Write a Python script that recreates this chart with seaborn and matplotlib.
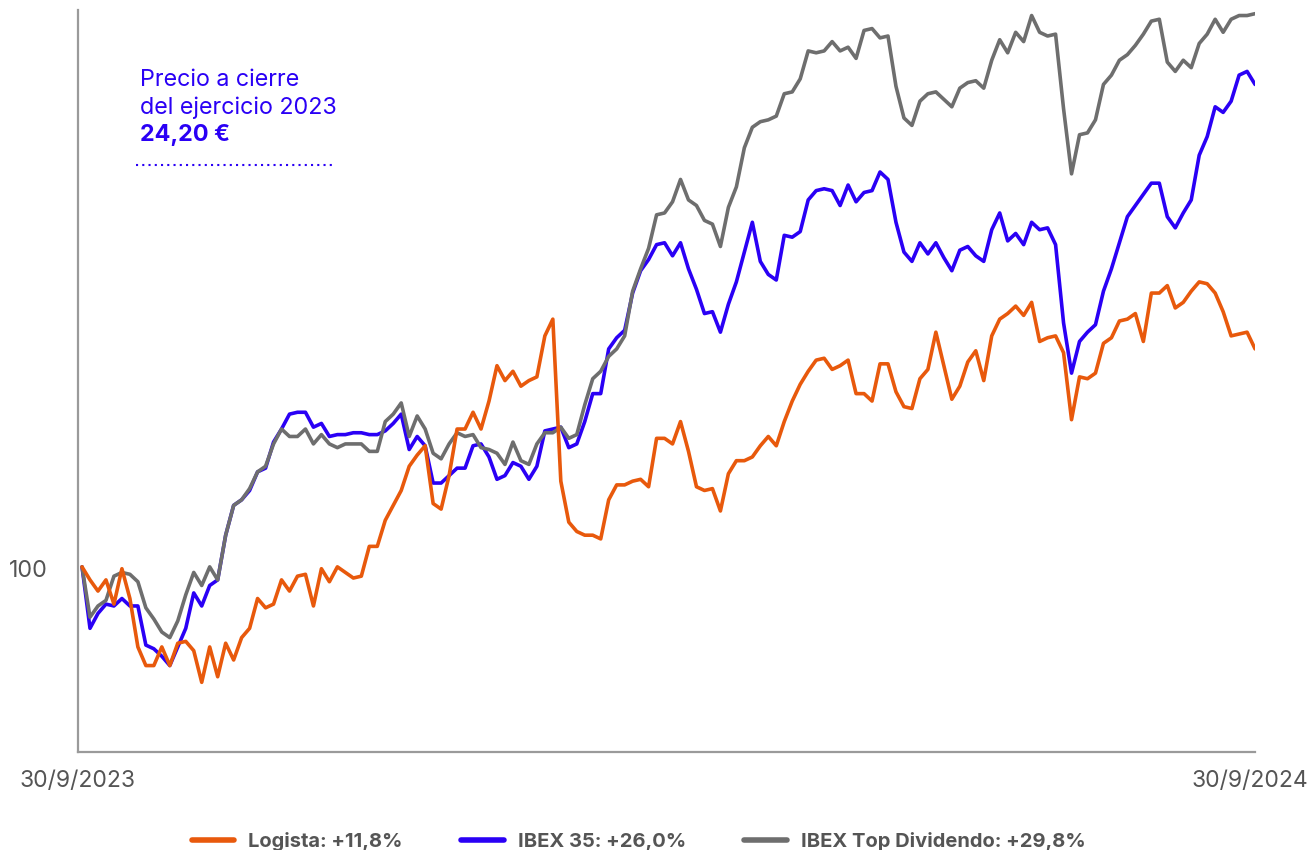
import matplotlib
matplotlib.use('Agg')
import matplotlib.pyplot as plt
from matplotlib.lines import Line2D
from matplotlib.transforms import ScaledTranslation
import numpy as np
import pandas as pd
import seaborn as sns

# índice base 100 a 30/9/2023
logista = [100.1, 99.4, 98.8, 99.4, 98.1, 100.0, 98.4, 95.8, 94.8, 94.8,
           95.8, 94.8, 96.0, 96.1, 95.6, 93.9, 95.8, 94.2, 96.0, 95.1,
           96.3, 96.8, 98.4, 97.9, 98.1, 99.4, 98.8, 99.6, 99.7, 98.0,
           100.0, 99.3, 100.1, 99.8, 99.5, 99.6, 101.2, 101.2, 102.6, 103.4,
           104.2, 105.5, 106.1, 106.6, 103.5, 103.2, 105.0, 107.5, 107.5, 108.4,
           107.5, 109.0, 110.9, 110.1, 110.6, 109.8, 110.1, 110.3, 112.5, 113.4,
           104.7, 102.5, 102.0, 101.8, 101.8, 101.6, 103.7, 104.5, 104.5, 104.7,
           104.8, 104.4, 107.0, 107.0, 106.7, 107.9, 106.3, 104.4, 104.2, 104.3,
           103.1, 105.1, 105.8, 105.8, 106.0, 106.6, 107.1, 106.6, 107.9, 109.0,
           109.9, 110.6, 111.2, 111.3, 110.7, 110.9, 111.2, 109.4, 109.4, 109.0,
           111.0, 111.0, 109.5, 108.7, 108.6, 110.2, 110.7, 112.7, 110.9, 109.1,
           109.8, 111.1, 111.7, 110.1, 112.5, 113.4, 113.7, 114.1, 113.6, 114.3,
           112.2, 112.4, 112.5, 111.6, 108.0, 110.3, 110.2, 110.5, 112.1, 112.4,
           113.3, 113.4, 113.7, 112.2, 114.8, 114.8, 115.2, 114.0, 114.3, 114.9,
           115.4, 115.3, 114.8, 113.8, 112.5, 112.6, 112.7, 111.8]

ibex35 = [100.1, 96.8, 97.6, 98.1, 98.0, 98.4, 98.0, 98.0, 95.9, 95.7,
          95.3, 94.8, 95.8, 96.8, 98.7, 98.0, 99.1, 99.4, 101.8, 103.4,
          103.7, 104.2, 105.2, 105.4, 106.8, 107.5, 108.3, 108.4, 108.4, 107.6,
          107.8, 107.1, 107.2, 107.2, 107.3, 107.3, 107.2, 107.2, 107.4, 107.8,
          108.3, 106.4, 107.1, 106.6, 104.6, 104.6, 105.0, 105.4, 105.4, 106.6,
          106.7, 106.0, 104.8, 105.0, 105.7, 105.5, 104.8, 105.5, 107.4, 107.5,
          107.6, 106.5, 106.7, 107.9, 109.4, 109.4, 111.8, 112.4, 112.8, 114.8,
          116.0, 116.6, 117.4, 117.5, 116.8, 117.5, 116.1, 115.0, 113.7, 113.8,
          112.7, 114.2, 115.4, 117.0, 118.6, 116.5, 115.8, 115.5, 117.9, 117.8,
          118.1, 119.8, 120.3, 120.4, 120.3, 119.5, 120.6, 119.7, 120.2, 120.3,
          121.3, 120.9, 118.6, 117.0, 116.5, 117.5, 116.9, 117.5, 116.7, 116.0,
          117.1, 117.3, 116.8, 116.5, 118.2, 119.1, 117.6, 118.0, 117.4, 118.6,
          118.2, 118.3, 117.4, 113.2, 110.5, 112.2, 112.7, 113.1, 114.9, 116.1,
          117.5, 118.9, 119.5, 120.1, 120.7, 120.7, 118.9, 118.3, 119.1, 119.8,
          122.2, 123.2, 124.8, 124.5, 125.1, 126.5, 126.7, 126.0]

ibex_top_div = [100.1, 97.4, 98.0, 98.3, 99.6, 99.8, 99.7, 99.3, 97.9, 97.3,
                96.6, 96.3, 97.2, 98.6, 99.8, 99.1, 100.1, 99.4, 101.8, 103.4,
                103.7, 104.3, 105.2, 105.5, 106.7, 107.5, 107.1, 107.1, 107.5, 106.7,
                107.2, 106.7, 106.5, 106.7, 106.7, 106.7, 106.3, 106.3, 107.9, 108.3,
                108.9, 107.1, 108.2, 107.5, 106.2, 105.9, 106.7, 107.3, 107.1, 107.2,
                106.5, 106.4, 106.2, 105.6, 106.8, 105.8, 105.6, 106.7, 107.3, 107.3,
                107.6, 107.0, 107.2, 108.8, 110.2, 110.6, 111.4, 111.8, 112.5, 114.9,
                116.1, 117.2, 119.0, 119.1, 119.7, 120.9, 119.8, 119.5, 118.7, 118.5,
                117.3, 119.4, 120.5, 122.6, 123.7, 124.0, 124.1, 124.3, 125.5, 125.6,
                126.3, 127.8, 127.7, 127.8, 128.3, 127.8, 128.0, 127.4, 128.9, 129.0,
                128.5, 128.6, 125.9, 124.2, 123.8, 125.1, 125.5, 125.6, 125.2, 124.8,
                125.8, 126.1, 126.2, 125.8, 127.3, 128.4, 127.7, 128.8, 128.3, 129.7,
                128.8, 128.6, 128.7, 124.7, 121.2, 123.3, 123.4, 124.1, 126.0, 126.5,
                127.3, 127.6, 128.1, 128.7, 129.4, 129.5, 127.2, 126.7, 127.3, 126.9,
                128.2, 128.7, 129.5, 128.8, 129.5, 129.7, 129.7, 129.8]

series = ['Logista: +11,8%', 'IBEX 35: +26,0%', 'IBEX Top Dividendo: +29,8%']
colores = {series[0]: '#E8590C', series[1]: '#2A00F5', series[2]: '#6E6E6E'}

fechas = pd.date_range('2023-09-30', '2024-09-30', periods=len(logista))

df = pd.DataFrame({'fecha': fechas,
                   series[0]: logista,
                   series[1]: ibex35,
                   series[2]: ibex_top_div})
df = df.melt(id_vars='fecha', var_name='serie', value_name='valor')

sns.set_style('white')
plt.rcParams['font.family'] = ['Inter', 'DejaVu Sans']

fig = plt.figure(figsize=(13.09, 8.5), dpi=100)
ax = fig.add_axes([0.0596, 0.1153, 0.8992, 0.873])

# orden de dibujo: azul, gris, naranja encima
sns.lineplot(data=df, x='fecha', y='valor', hue='serie',
             hue_order=[series[1], series[2], series[0]],
             palette=colores, linewidth=2.6, legend=False, ax=ax)

ax.set_xlim(fechas[0] - pd.Timedelta(hours=30), fechas[-1])
ax.set_ylim(90.16, 130.0)

ax.set_yticks([100])
ax.set_yticklabels(['100'])
ax.set_xticks([fechas[0], fechas[-1]])
ax.set_xticklabels(['30/9/2023', '30/9/2024'])
ax.tick_params(axis='y', length=0, pad=22, labelsize=16.8, labelcolor='#555555')
ax.tick_params(axis='x', length=0, pad=13, labelsize=16.5, labelcolor='#555555')
# pequeño desplazamiento a la izquierda de las etiquetas de fecha
for lbl in ax.get_xticklabels():
    lbl.set_transform(lbl.get_transform() + ScaledTranslation(-0.05, 0, fig.dpi_scale_trans))
ax.set_xlabel('')
ax.set_ylabel('')

sns.despine(ax=ax)
for s in ['left', 'bottom']:
    ax.spines[s].set_color('#9A9A9A')
    ax.spines[s].set_linewidth(1.6)

# anotación precio
azul = '#2A00F5'
fig.text(0.107, 0.906, 'Precio a cierre', color=azul, fontsize=16.8, va='center')
fig.text(0.107, 0.873, 'del ejercicio 2023', color=azul, fontsize=16.8, va='center')
fig.text(0.107, 0.841, '24,20 €', color=azul, fontsize=16.8, fontweight='bold', va='center')
fig.add_artist(Line2D([0.104, 0.255], [0.806, 0.806], color=azul,
                      linestyle=(0, (1, 2)), linewidth=1.5))

handles = [Line2D([0], [0], color=colores[s], linewidth=4) for s in series]
fig.legend(handles, series, loc='center', bbox_to_anchor=(0.488, 0.010),
           ncol=3, frameon=False, handlelength=2.1, handletextpad=0.7,
           columnspacing=2.9, prop={'weight': 'bold', 'size': 14.5},
           labelcolor='#555555')

plt.savefig('out.png', dpi=100)
